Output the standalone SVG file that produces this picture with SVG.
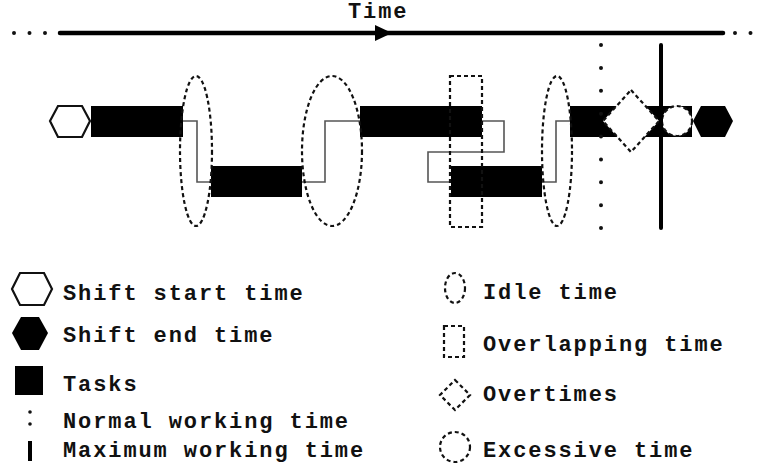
<svg xmlns="http://www.w3.org/2000/svg" width="758" height="467" viewBox="0 0 758 467">
<style>
text{font-family:"Liberation Mono","Courier New",monospace;font-weight:bold;font-size:22px;letter-spacing:1.9px;fill:#111}
.task{fill:#000}
.dash{fill:none;stroke:#111;stroke-width:2.2;stroke-dasharray:4 3}
.dashw{fill:#fff;stroke:#111;stroke-width:2.2;stroke-dasharray:4 3}
.conn{fill:none;stroke:#555;stroke-width:1.6}
.dots{stroke:#111;stroke-width:4;stroke-linecap:round}
</style>
<rect width="758" height="467" fill="#fff"/>
<g id="timeline">
<text x="348" y="18">Time</text>
<line x1="60" y1="33" x2="723" y2="33" stroke="#000" stroke-width="4.5" stroke-linecap="round"/>
<polygon points="375,25 392,33 375,41" fill="#000"/>
<line x1="14" y1="33" x2="46.5" y2="33" class="dots" stroke-width="3" stroke-dasharray="0 15.5"/>
<line x1="735" y1="33" x2="751" y2="33" class="dots" stroke-width="3" stroke-dasharray="0 15.5"/>
</g>
<g id="connectors">
<polyline class="conn" points="183,121 197,121 197,182 211,182"/>
<polyline class="conn" points="302,182 325,182 325,121 360,121"/>
<polyline class="conn" points="482,121 504,121 504,152 428,152 428,182 451,182"/>
<polyline class="conn" points="542,182 556,182 556,121 570,121"/>
</g>
<g id="shift-start"><polygon points="50,121 58,106 82,106 90,121 82,137 58,137" fill="#fff" stroke="#111" stroke-width="2.2"/></g>
<g id="task1"><rect class="task" x="91" y="106" width="92" height="31"/></g>
<g id="task2"><rect class="task" x="211" y="166" width="91" height="31"/></g>
<g id="task3"><rect class="task" x="360" y="106" width="122" height="31"/></g>
<g id="task4"><rect class="task" x="451" y="166" width="91" height="31"/></g>
<g id="task5"><rect class="task" x="570" y="106" width="122" height="31"/></g>
<g id="idle1"><ellipse class="dash" cx="196" cy="151" rx="16" ry="75"/></g>
<g id="idle2"><ellipse class="dash" cx="332" cy="151" rx="30" ry="75"/></g>
<g id="overlap"><rect class="dash" x="450" y="76" width="32" height="151"/></g>
<g id="idle3"><ellipse class="dash" cx="557" cy="151" rx="15" ry="75"/></g>
<g id="normal-line"><line class="dots" x1="601" y1="45" x2="601" y2="228.5" stroke-dasharray="0 22.875"/></g>
<g id="overtime"><polygon class="dashw" points="631,90 659,121 631,152 603,121"/></g>
<g id="excessive"><circle class="dashw" cx="677" cy="121" r="15"/></g>
<g id="max-line"><line x1="661" y1="45" x2="661" y2="228" stroke="#000" stroke-width="4" stroke-linecap="round"/></g>
<g id="shift-end"><polygon points="693,121 701,106 725,106 733,121 725,137 701,137" fill="#000"/></g>
<g id="legend-start"><polygon points="12,289 20,273 44,273 52,289 44,305 20,305" fill="#fff" stroke="#111" stroke-width="2.2"/><text x="63" y="300">Shift start time</text></g>
<g id="legend-end"><polygon points="12,333 21,317 39,317 48,333 39,350 21,350" fill="#000"/><text x="63" y="342">Shift end time</text></g>
<g id="legend-tasks"><rect x="15" y="366" width="28" height="29" fill="#000"/><text x="63" y="391">Tasks</text></g>
<g id="legend-normal"><circle cx="30" cy="412" r="1.8" fill="#111"/><circle cx="30" cy="424" r="1.8" fill="#111"/><text x="63" y="428">Normal working time</text></g>
<g id="legend-max"><line x1="30" y1="441" x2="30" y2="461" stroke="#000" stroke-width="4"/><text x="63" y="457">Maximum working time</text></g>
<g id="legend-idle"><ellipse class="dash" cx="455" cy="288" rx="10" ry="15"/><text x="483" y="299">Idle time</text></g>
<g id="legend-overlap"><rect class="dash" x="444" y="326" width="20" height="31"/><text x="483" y="351">Overlapping time</text></g>
<g id="legend-overtime"><polygon class="dash" points="455,380 470,395 455,410 440,395"/><text x="483" y="401">Overtimes</text></g>
<g id="legend-excessive"><circle class="dash" cx="455" cy="447" r="15"/><text x="483" y="457">Excessive time</text></g>
</svg>
